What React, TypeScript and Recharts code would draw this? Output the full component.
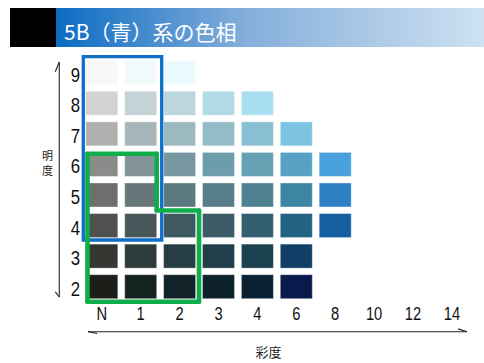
import React from 'react';
import {
  ScatterChart,
  Scatter,
  XAxis,
  YAxis,
  ReferenceArea,
  ReferenceLine,
} from 'recharts';

// Chroma (彩度) categories along the x axis
const chromaLabels = ['N', '1', '2', '3', '4', '6', '8', '10', '12', '14'];
// Value (明度) levels along the y axis
const valueLevels = [9, 8, 7, 6, 5, 4, 3, 2];

// Colour chips for each value row, from chroma N outward
const row9 = ['#f8f8f6', '#f1fafa', '#e9f9fc'];
const row8 = ['#d2d3d0', '#c5d3d6', '#bcd7dd', '#b1dbe5', '#a9dff0'];
const row7 = ['#afb0ad', '#a6b5b9', '#9cb9c0', '#92bcc8', '#88bfd2', '#7cc4e2'];
const row6 = ['#8b8c8a', '#82949a', '#7898a1', '#6d9caa', '#66a0b3', '#57a2c4', '#48a1dc'];
const row5 = ['#6f706d', '#667679', '#5c7980', '#577d88', '#4e8191', '#3c86a3', '#2e80c4'];
const row4 = ['#50514e', '#485759', '#3e5961', '#3b5c67', '#335f70', '#226282', '#135fa0'];
const row3 = ['#363733', '#2e3b3b', '#263d43', '#203f4a', '#1b4050', '#0f3f66'];
const row2 = ['#1c1e19', '#162421', '#12242a', '#0e222d', '#0b2235', '#0a1a4d'];

const rows: string[][] = [row9, row8, row7, row6, row5, row4, row3, row2];

const swatches = rows.flatMap((colors, r) =>
  colors.map((color, c) => ({ c, v: valueLevels[r], color }))
);

// Outline annotations in data units (chroma index, value)
const greenOutline = [
  { x: -0.368, y: 6.35 },
  { x: 1.411, y: 6.35 },
  { x: 1.411, y: 4.49 },
  { x: 2.499, y: 4.49 },
  { x: 2.499, y: 1.509 },
  { x: -0.368, y: 1.509 },
  { x: -0.368, y: 6.35 },
];

const chipShape = (props: any) => {
  const { cx, cy, payload } = props;
  return (
    <rect
      x={cx - 16}
      y={cy - 12}
      width={32}
      height={24}
      fill={payload.color}
      stroke="#ffffff"
      strokeOpacity={0.35}
      strokeWidth={1}
    />
  );
};

const FONT = "'Liberation Sans Narrow', 'Liberation Sans', Arial, sans-serif";

const XTick = (props: any) => {
  const { x, y, payload } = props;
  return (
    <text
      transform={`translate(${x},${y + 18.5}) scale(0.84,1)`}
      textAnchor="middle"
      fontSize={17.5}
      fill="#111"
      fontFamily={FONT}
    >
      {chromaLabels[payload.value]}
    </text>
  );
};

const YTick = (props: any) => {
  const { x, y, payload } = props;
  return (
    <text
      transform={`translate(${x - 7},${y + 9}) scale(0.82,1)`}
      textAnchor="middle"
      fontSize={20.5}
      fill="#111"
      fontFamily={FONT}
    >
      {payload.value}
    </text>
  );
};

const GREEN = '#10ae4b';
const BLUE = '#0f6fc8';
const AX = '#222';

const MARGIN = { top: 57.4, right: 12.65, bottom: 31.02, left: 0 };
const OVERLAY_MARGIN = { top: 57.4, right: 12.65, bottom: 61.02, left: 82.35 };

export default function App() {
  return (
    <div style={{ position: 'absolute', left: 0, top: 0, width: 484, height: 363, background: '#ffffff' }}>
      <svg width={484} height={363} style={{ position: 'absolute', left: 0, top: 0 }}>
        <defs>
          <linearGradient id="titleGrad" x1="0" y1="0" x2="1" y2="0">
            <stop offset="0" stopColor="#0b6cc3" />
            <stop offset="0.45" stopColor="#86afdb" />
            <stop offset="1" stopColor="#cde1f1" />
          </linearGradient>
        </defs>
        <rect x={10} y={8} width={46} height={39} fill="#000" />
        <rect x={56} y={8} width={428} height={39} fill="url(#titleGrad)" />
        <text
          x={64}
          y={39.5}
          fontSize={21}
          fill="#ffffff"
          fontFamily="'Noto Sans CJK JP', 'Noto Sans', sans-serif"
        >
          5B（青）系の色相
        </text>
        <text x={47.5} y={160} fontSize={11} textAnchor="middle" fill="#222" fontFamily="'Noto Sans CJK JP', sans-serif">明</text>
        <text x={47.5} y={174.5} fontSize={11} textAnchor="middle" fill="#222" fontFamily="'Noto Sans CJK JP', sans-serif">度</text>
        <text x={268.5} y={357} fontSize={13} textAnchor="middle" fill="#222" fontFamily="'Noto Sans CJK JP', sans-serif">彩度</text>
      </svg>
      <div style={{ position: 'absolute', left: 0, top: 0 }}>
        <ScatterChart width={484} height={363} margin={MARGIN}>
          <XAxis
            type="number"
            dataKey="c"
            domain={[-0.5, 9.5]}
            ticks={[0, 1, 2, 3, 4, 5, 6, 7, 8, 9]}
            interval={0}
            axisLine={false}
            tickLine={false}
            tickSize={0}
            tickMargin={0}
            height={30}
            tick={<XTick />}
            allowDataOverflow
          />
          <YAxis
            type="number"
            dataKey="v"
            domain={[1.5, 9.5]}
            ticks={valueLevels}
            interval={0}
            axisLine={false}
            tickLine={false}
            tickSize={0}
            tickMargin={0}
            width={82.35}
            tick={<YTick />}
            allowDataOverflow
          />
          <Scatter data={swatches} shape={chipShape} isAnimationActive={false} />
          {/* value axis arrow */}
          <ReferenceLine segment={[{ x: -1.093, y: 9.35 }, { x: -1.093, y: 1.663 }]} stroke={AX} strokeWidth={1.1} ifOverflow="visible" />
          <ReferenceLine segment={[{ x: -1.093, y: 9.35 }, { x: -1.196, y: 9.03 }]} stroke={AX} strokeWidth={1.1} ifOverflow="visible" />
          <ReferenceLine segment={[{ x: -1.093, y: 1.663 }, { x: -1.196, y: 1.83 }]} stroke={AX} strokeWidth={1.1} ifOverflow="visible" />
          {/* chroma axis arrow */}
          <ReferenceLine segment={[{ x: -0.355, y: 0.528 }, { x: 9.388, y: 0.528 }]} stroke={AX} strokeWidth={1.1} ifOverflow="visible" />
          <ReferenceLine segment={[{ x: -0.355, y: 0.528 }, { x: -0.12, y: 0.47 }]} stroke={AX} strokeWidth={1.1} ifOverflow="visible" />
          <ReferenceLine segment={[{ x: 9.388, y: 0.528 }, { x: 9.16, y: 0.62 }]} stroke={AX} strokeWidth={1.1} ifOverflow="visible" />
        </ScatterChart>
      </div>
      {/* overlay chart with the same scales, for outlines drawn above the chips */}
      <div style={{ position: 'absolute', left: 0, top: 0, pointerEvents: 'none' }}>
        <ScatterChart width={484} height={363} margin={OVERLAY_MARGIN}>
          <XAxis type="number" dataKey="c" domain={[-0.5, 9.5]} hide allowDataOverflow />
          <YAxis type="number" dataKey="v" domain={[1.5, 9.5]} hide allowDataOverflow />
          <Scatter data={[]} isAnimationActive={false} />
          <ReferenceArea
            x1={-0.476}
            x2={1.54}
            y1={3.527}
            y2={9.523}
            fill="none"
            fillOpacity={0}
            stroke={BLUE}
            strokeWidth={3.3}
            ifOverflow="visible"
          />
          {greenOutline.slice(0, -1).map((p, i) => (
            <ReferenceLine
              key={i}
              segment={[p, greenOutline[i + 1]]}
              stroke={GREEN}
              strokeWidth={4.6}
              strokeLinecap="round"
              ifOverflow="visible"
            />
          ))}
        </ScatterChart>
      </div>
    </div>
  );
}
